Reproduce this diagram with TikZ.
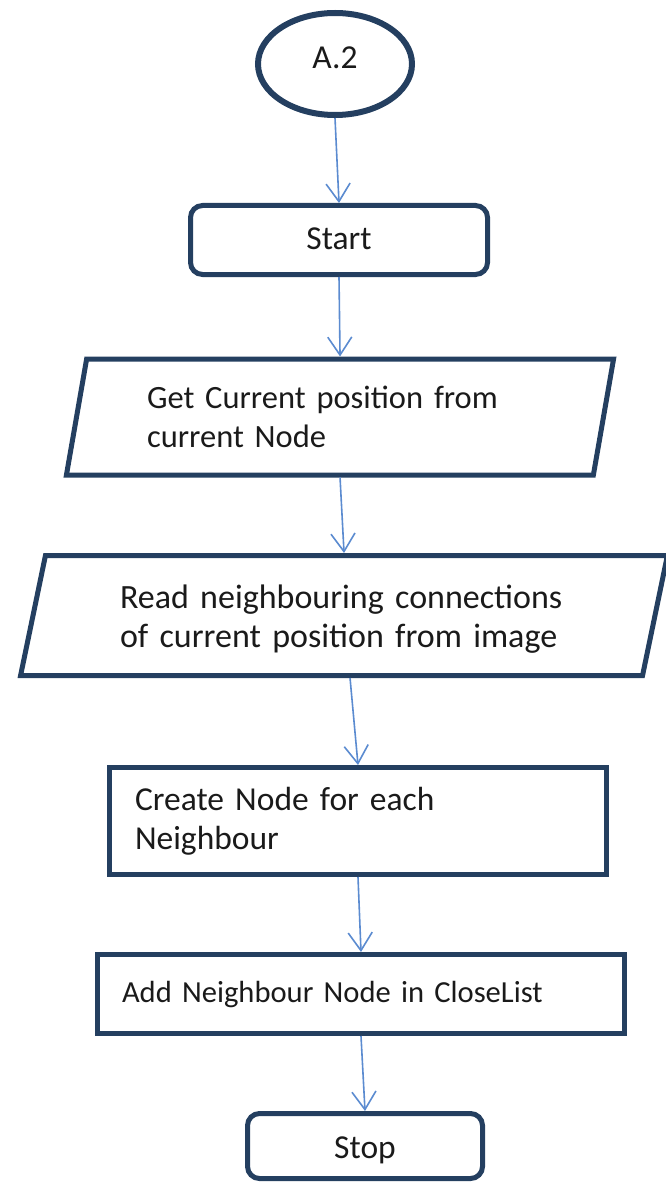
\documentclass[tikz,border=0pt]{standalone}
\usepackage{fontspec}
\setmainfont{Carlito}
\usetikzlibrary{shapes.geometric,arrows.meta}
\definecolor{frame}{HTML}{243F60}
\definecolor{flow}{HTML}{5B8BD0}
\definecolor{ink}{HTML}{1A1A1A}
\begin{document}
\begin{tikzpicture}[x=1pt,y=-1pt,
  every node/.style={font=\fontsize{33.5}{39}\selectfont, text=ink},
  shapeline/.style={draw=frame, line width=5pt, inner sep=0pt},
  connector/.style={ellipse, shapeline, line width=6pt},
  terminal/.style={rectangle, rounded corners=12pt, shapeline},
  process/.style={rectangle, shapeline, align=left},
  io/.style={trapezium, trapezium left angle=76, trapezium right angle=104,
    trapezium stretches=true, shapeline, align=left},
  flowarrow/.style={draw=flow, line width=1.6pt,
    -{Straight Barb[length=18pt,width=24pt,line width=1.6pt]}},
]
\useasboundingbox (0,0) rectangle (665,1182);

% flowchart blocks
\node[connector, minimum width=154pt, minimum height=102pt,
      text height=21pt, text depth=12pt] (a2) at (335,64) {A.2};
\node[terminal, minimum width=297pt, minimum height=69pt,
      text height=23pt, text depth=5pt] (start) at (339,240) {Start};
\node[io, minimum width=548pt, minimum height=116pt, text width=386pt,
      font=\fontsize{32.5}{39}\selectfont] (getpos) at (340,417)
  {Get Current position from\\current Node};
\node[io, minimum width=647pt, minimum height=120pt, text width=448pt,
      font=\fontsize{34}{39}\selectfont] (readnb) at (344,615.5)
  {\rule{0pt}{30pt}Read neighbouring connections\\of current position from image};
\node[process, minimum width=497pt, minimum height=107pt, text width=446pt] (create) at (358,821)
  {Create Node for each\\Neighbour};
\node[process, minimum width=527pt, minimum height=79pt, text width=478pt,
      font=\fontsize{30.6}{39}\selectfont] (addnb) at (361,994)
  {Add Neighbour Node in CloseList};
\node[terminal, minimum width=235pt, minimum height=65pt,
      text height=25pt, text depth=0pt] (stop) at (365,1146) {Stop};

% flow connectors
\draw[flowarrow] (a2.south) -- (start.north);
\draw[flowarrow] (start.south) -- (getpos.north);
\draw[flowarrow] (getpos.south) -- (readnb.north);
\draw[flowarrow] ([xshift=6pt]readnb.south) -- (create.north);
\draw[flowarrow] (create.south) -- (addnb.north);
\draw[flowarrow] (addnb.south) -- (stop.north);
\end{tikzpicture}
\end{document}
